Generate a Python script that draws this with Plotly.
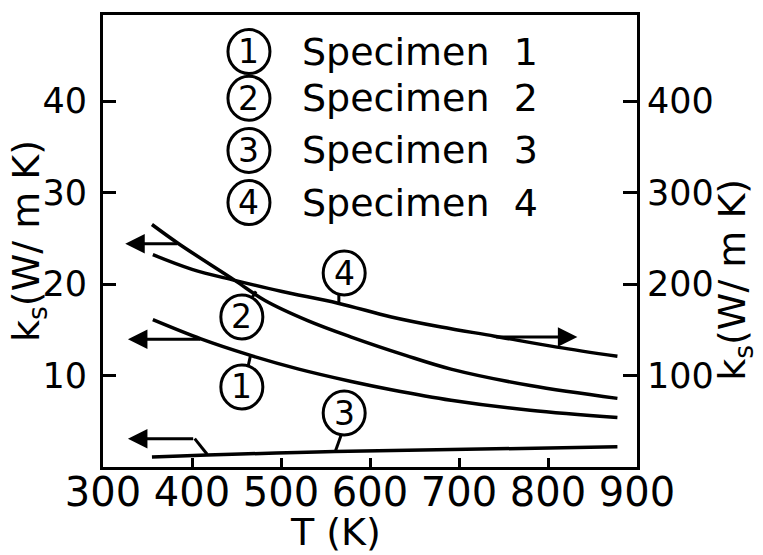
import plotly.graph_objects as go

# ---- data ----
T1 = [356, 410, 464, 520, 579, 624, 691, 780, 878]
k1 = [16.1, 14.0, 12.25, 10.7, 9.35, 8.45, 7.3, 6.2, 5.4]

T2 = [355, 385, 448, 482, 530, 579, 640, 691, 780, 878]
k2 = [26.5, 24.4, 20.4, 18.2, 16.0, 14.2, 12.2, 10.7, 8.9, 7.5]

T3 = [355, 560, 878]
k3 = [1.1, 1.7, 2.2]

T4 = [356, 400, 448, 500, 564, 624, 680, 740, 810, 878]   # right axis
k4 = [232, 216, 204, 192, 179, 164, 153, 143, 131, 121]

x_ticks = [300, 400, 500, 600, 700, 800, 900]
yl_ticks = [10, 20, 30, 40]
yr_ticks = [100, 200, 300, 400]
legend_labels = ["Specimen\u00a0\u00a01", "Specimen\u00a0\u00a02", "Specimen\u00a0\u00a03", "Specimen\u00a0\u00a04"]
legend_nums = ["1", "2", "3", "4"]

FONT = "DejaVu Sans"
LW = 3
CW = 3.5

fig = go.Figure()
fig.add_trace(go.Scatter(x=T1, y=k1, mode="lines", line=dict(color="black", width=CW, shape="spline"), showlegend=False))
fig.add_trace(go.Scatter(x=T2, y=k2, mode="lines", line=dict(color="black", width=CW, shape="spline"), showlegend=False))
fig.add_trace(go.Scatter(x=T3, y=k3, mode="lines", line=dict(color="black", width=CW, shape="spline"), showlegend=False))
fig.add_trace(go.Scatter(x=T4, y=k4, mode="lines", yaxis="y2", line=dict(color="black", width=CW, shape="spline"), showlegend=False))

shapes = []
annots = []

def circle(xc, yc, num, yref="y", rx=21, ry=22, size=33):
    shapes.append(dict(type="circle", xref="x", yref=yref, xsizemode="pixel", ysizemode="pixel",
                       xanchor=xc, yanchor=yc, x0=-rx, x1=rx, y0=-ry, y1=ry,
                       line=dict(color="black", width=LW), fillcolor="white", layer="above"))
    annots.append(dict(x=xc, y=yc, xref="x", yref=yref, text=num, showarrow=False,
                       xanchor="center", yanchor="middle",
                       font=dict(family=FONT, size=size, color="black")))

def seg(x0, y0, x1, y1, yref="y"):
    shapes.append(dict(type="line", xref="x", yref=yref, x0=x0, y0=y0, x1=x1, y1=y1,
                       line=dict(color="black", width=LW)))

# curve labels with leader lines
seg(565, 19.0, 565, 17.8)
circle(571, 21.2, "4")
seg(466, 18.3, 472, 19.2)
circle(456, 16.4, "2")
seg(463, 11.0, 466, 12.3)
circle(456, 8.75, "1")
seg(568, 3.6, 561, 1.7)
circle(571, 5.9, "3")

# legend block
leg_y = [45.4, 40.3, 34.6, 28.9]
for yy, num, lab in zip(leg_y, legend_nums, legend_labels):
    circle(464, yy, num, rx=21, ry=22)
    annots.append(dict(x=0.368, xref="paper", y=yy, yref="y", text=lab, showarrow=False,
                       xanchor="left", yanchor="middle", font=dict(family=FONT, size=38, color="black")))

# axis arrows
def arrow(xh, yh, xt, yt, yref="y"):
    annots.append(dict(x=xh, y=yh, ax=xt, ay=yt, xref="x", yref=yref, axref="x", ayref=yref,
                       text="", showarrow=True, arrowhead=2, arrowsize=1.3, arrowwidth=LW,
                       arrowcolor="black"))

arrow(325, 24.4, 385, 24.4)
arrow(328, 13.96, 411, 13.96)
arrow(328, 3.1, 403, 3.1)
seg(403, 3.1, 417, 1.4)
arrow(833, 142, 740, 142, yref="y2")

# axis titles
annots.append(dict(x=-0.1404, y=0.5, xref="paper", yref="paper", text="k<sub>s</sub>(W/ m K)", textangle=-90,
                   xanchor="center", yanchor="middle",
                   showarrow=False, font=dict(family=FONT, size=38, color="black")))
annots.append(dict(x=1.1835, y=0.414, xref="paper", yref="paper", text="k<sub>s</sub>(W/ m K)", textangle=-90,
                   xanchor="center", yanchor="middle",
                   showarrow=False, font=dict(family=FONT, size=38, color="black")))
annots.append(dict(x=0.4345, y=-0.143, xref="paper", yref="paper", text="T (K)",
                   xanchor="center", yanchor="middle",
                   showarrow=False, font=dict(family=FONT, size=38, color="black")))

axis_common = dict(showgrid=False, zeroline=False, showline=True, linecolor="black", linewidth=LW,
                   ticks="inside", tickcolor="black", tickwidth=2.5)

fig.update_layout(
    width=763, height=555,
    margin=dict(l=103, r=126, t=13, b=88),
    paper_bgcolor="white", plot_bgcolor="white",
    showlegend=False,
    xaxis=dict(range=[300, 900], tickvals=x_ticks, ticklen=9, mirror=True,
               tickfont=dict(family=FONT, size=40, color="black"), ticklabelstandoff=-12, **axis_common),
    yaxis=dict(range=[0, 49.4], tickvals=yl_ticks, ticklen=13,
               tickfont=dict(family=FONT, size=35, color="black"), ticklabelstandoff=6, **axis_common),
    yaxis2=dict(range=[0, 494], tickvals=yr_ticks, ticklen=14, overlaying="y", side="right",
                tickfont=dict(family=FONT, size=35, color="black"), ticklabelstandoff=0, **axis_common),
    shapes=shapes,
    annotations=annots,
)

fig.write_html("out.html")
